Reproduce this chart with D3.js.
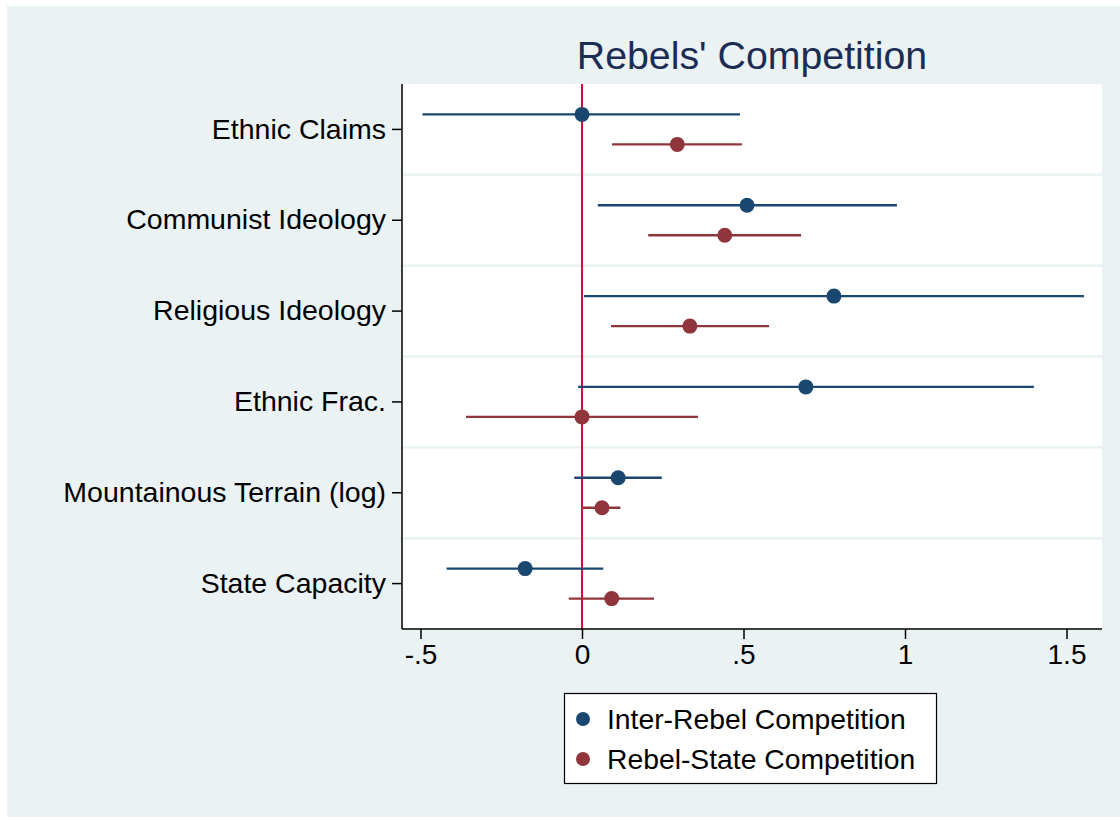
<!DOCTYPE html>
<html>
<head>
<meta charset="utf-8">
<script src="https://cdn.jsdelivr.net/npm/d3@7"></script>
<style>
  html, body { margin: 0; padding: 0; background: #ffffff; }
  svg text { font-family: "Liberation Sans", Arial, Helvetica, sans-serif; }
</style>
</head>
<body>
<svg id="chart" width="1120" height="820"></svg>
<script>
// Coefficient estimates with 95% confidence intervals
const categories = ["Ethnic Claims", "Communist Ideology", "Religious Ideology",
                    "Ethnic Frac.", "Mountainous Terrain (log)", "State Capacity"];

const interRebelEst   = [0.000, 0.511, 0.780, 0.693, 0.112, -0.176];
const interRebelLow   = [-0.494, 0.049, 0.006, -0.012, -0.024, -0.419];
const interRebelHigh  = [0.489, 0.975, 1.554, 1.399, 0.247, 0.066];

const rebelStateEst   = [0.295, 0.442, 0.334, 0.000, 0.062, 0.092];
const rebelStateLow   = [0.093, 0.205, 0.090, -0.359, 0.001, -0.041];
const rebelStateHigh  = [0.495, 0.678, 0.579, 0.359, 0.119, 0.223];

const xTickValues = [-0.5, 0, 0.5, 1, 1.5];
const xTickLabels = ["-.5", "0", ".5", "1", "1.5"];

const seriesNames = ["Inter-Rebel Competition", "Rebel-State Competition"];
const seriesColors = ["#1a476f", "#90353b"];

const svg = d3.select("#chart");

// outer background
svg.append("rect").attr("x", 7).attr("y", 6).attr("width", 1113).attr("height", 811)
  .attr("fill", "#eaf2f3");

const plot = { left: 402, right: 1102, top: 84, bottom: 629 };

const x = d3.scaleLinear().domain([-0.5, 1.5]).range([420.5, 1066.5]);
const y = d3.scaleBand().domain(categories).range([plot.top, plot.bottom]).padding(0);
const offset = 15;

// plot region
svg.append("rect").attr("x", plot.left).attr("y", plot.top)
  .attr("width", plot.right - plot.left).attr("height", plot.bottom - plot.top)
  .attr("fill", "#ffffff");

// separators between categories
svg.append("g").selectAll("line")
  .data(categories.slice(1))
  .join("line")
  .attr("x1", plot.left).attr("x2", plot.right)
  .attr("y1", d => y(d)).attr("y2", d => y(d))
  .attr("stroke", "#eaf2f3").attr("stroke-width", 2.5);

// zero reference line
svg.append("line")
  .attr("x1", x(0)).attr("x2", x(0))
  .attr("y1", plot.top).attr("y2", plot.bottom)
  .attr("stroke", "#d0103a").attr("stroke-width", 2);

// series
const series = [
  { est: interRebelEst, low: interRebelLow, high: interRebelHigh, dy: -offset, color: seriesColors[0] },
  { est: rebelStateEst, low: rebelStateLow, high: rebelStateHigh, dy: offset, color: seriesColors[1] }
];

series.forEach(s => {
  const rows = categories.map((c, i) => ({ c, est: s.est[i], low: s.low[i], high: s.high[i] }));
  const cy = d => y(d.c) + y.bandwidth() / 2 + s.dy;
  const g = svg.append("g");
  g.selectAll("line")
    .data(rows)
    .join("line")
    .attr("x1", d => x(d.low)).attr("x2", d => x(d.high))
    .attr("y1", cy).attr("y2", cy)
    .attr("stroke", s.color).attr("stroke-width", 2.4);
  g.selectAll("circle")
    .data(rows)
    .join("circle")
    .attr("cx", d => x(d.est)).attr("cy", cy)
    .attr("r", 7.5)
    .attr("fill", s.color);
});

// y axis
const yAxis = d3.axisLeft(y).tickSize(10).tickPadding(6);
const gy = svg.append("g").attr("transform", `translate(${plot.left},0)`).call(yAxis);
gy.select(".domain").attr("stroke", "#000").attr("stroke-width", 1.5)
  .attr("d", `M0,${plot.top}V${plot.bottom}`);
gy.selectAll(".tick line").attr("stroke", "#000").attr("stroke-width", 1.5);
gy.selectAll(".tick text").attr("font-size", 28.5).attr("fill", "#000")
  .attr("font-family", "Liberation Sans, Arial, sans-serif");

// x axis
const xAxis = d3.axisBottom(x).tickValues(xTickValues)
  .tickFormat((d, i) => xTickLabels[i]).tickSize(10).tickPadding(5);
const gx = svg.append("g").attr("transform", `translate(0,${plot.bottom})`).call(xAxis);
gx.select(".domain").attr("stroke", "#000").attr("stroke-width", 1.5)
  .attr("d", `M${plot.left},0H${plot.right}`);
gx.selectAll(".tick line").attr("stroke", "#000").attr("stroke-width", 1.5);
gx.selectAll(".tick text").attr("font-size", 28).attr("fill", "#000")
  .attr("font-family", "Liberation Sans, Arial, sans-serif");

// title
svg.append("text")
  .attr("x", 752).attr("y", 69)
  .attr("text-anchor", "middle")
  .attr("font-size", 39.3)
  .attr("fill", "#1c2d55")
  .text("Rebels' Competition");

// legend
const legend = svg.append("g");
legend.append("rect").attr("x", 564.5).attr("y", 693.5).attr("width", 372).attr("height", 90)
  .attr("fill", "#ffffff").attr("stroke", "#000").attr("stroke-width", 1.2);
const legendRows = legend.selectAll("g.item")
  .data(seriesNames)
  .join("g").attr("class", "item")
  .attr("transform", (d, i) => `translate(583,${719 + i * 40})`);
legendRows.append("circle").attr("r", 7).attr("fill", (d, i) => seriesColors[i]);
legendRows.append("text").attr("x", 24).attr("y", 10)
  .attr("font-size", 28.3).attr("fill", "#000").text(d => d);
</script>
</body>
</html>
